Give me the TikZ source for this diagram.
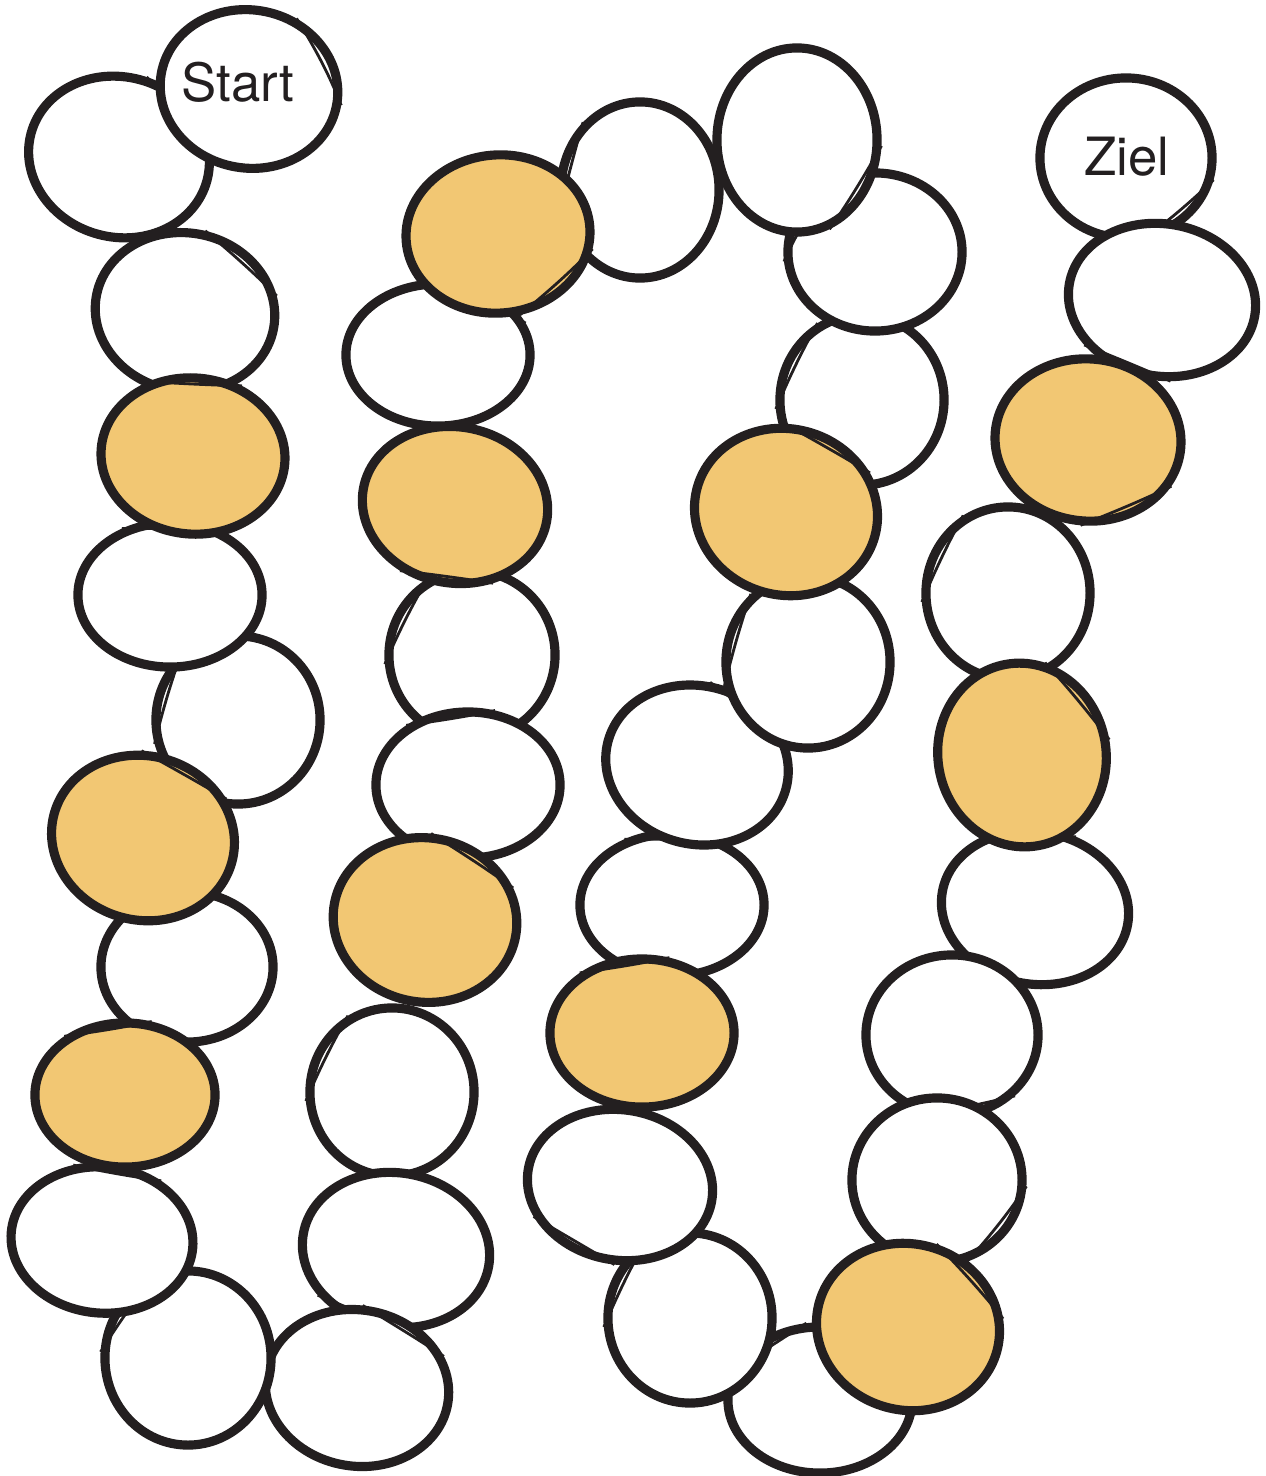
\documentclass[tikz,border=0pt]{standalone}
\usepackage{fontspec}
\newfontfamily\heros{TeX Gyre Heros}
\usetikzlibrary{shapes.geometric,calc}
\definecolor{ink}{HTML}{231F20}
\definecolor{gold}{HTML}{F2C773}
\tikzset{
  feld/.style={draw=ink, line width=2.6pt, ellipse, inner sep=0pt},
  strich/.style={draw=ink, line width=0.8pt},
  beschrift/.style={text=ink, font=\heros\fontsize{15}{18}\selectfont}
}
\begin{document}
\begin{tikzpicture}[x=0.01cm, y=-0.01cm]
    \useasboundingbox (0,0) rectangle (1265,1476);

    % Spielfelder: weisse vom Ziel zum Start, danach die gelben obendrauf
    % Nummer/x/y/Halbachse x/Halbachse y/Drehung/Farbe/Winkel des Doppelstrichs
    \foreach \n/\x/\y/\a/\b/\r/\f/\w [evaluate=\w as \wa using int(\w+22),
                                      evaluate=\w as \wb using int(\w+44),
                                      evaluate=\w as \wc using int(\w+66)] in {
        41/1126/158/86/80/0/white/280,
        40/1162/300/94/76/-10/white/220,
        38/1008/593/82/86/0/white/120,
        36/1035/908/94/76/-10/white/70,
        35/952/1035/86/80/0/white/250,
        34/937/1180/85/82/0/white/290,
        32/820/1400/92/73/0/white/100,
        31/690/1318/82/85/0/white/120,
        30/620/1185/93/75/-10/white/210,
        28/672/905/92/71/0/white/60,
        27/697/765/92/79/-15/white/30,
        26/808/662/82/86/0/white/130,
        24/862/400/82/85/0/white/120,
        23/875/252/87/79/0/white/120,
        22/797/140/80/92/0/white/290,
        21/640/190/79/88/0/white/130,
        19/438/355/92/71/0/white/20,
        17/472/655/83/84/0/white/120,
        16/468/785/92/73/0/white/70,
        14/392/1092/82/84/0/white/120,
        13/396/1250/94/77/-10/white/220,
        12/357/1388/92/78/-10/white/30,
        11/188/1358/83/87/0/white/110,
        10/102/1240/91/73/-5/white/50,
        8/187/967/86/75/0/white/70,
        6/238/720/82/84/0/white/130,
        5/170/595/92/72/0/white/60,
        3/185/312/90/79/-10/white/20,
        2/119/157/91/80/-15/white/20,
        1/249/89/89/79/-10/white/0,
        39/1088/440/93/81/-5/gold/270,
        37/1022/755/84/92/10/gold/0,
        33/908/1327/92/83/-15/gold/20,
        29/642/1033/92/74/0/gold/70,
        25/786/512/92/83/-15/gold/40,
        20/498/234/92/79/5/gold/280,
        18/455/505/93/78/-10/gold/240,
        15/425/920/92/82/-10/gold/30,
        9/125/1095/90/72/0/gold/70,
        7/143/838/92/82/-15/gold/40,
        4/193/456/92/78/-5/gold/60} {
        \node[feld, fill=\f, rotate=\r, minimum width=\a*0.02cm, minimum height=\b*0.02cm] (f\n) at (\x,\y) {};
        \draw[strich] (f\n.\w) .. controls ($(f\n.center)!0.88!(f\n.\wa)$) and ($(f\n.center)!0.88!(f\n.\wb)$) .. (f\n.\wc);
    }

    % Start und Ziel
    \node[beschrift] (start) at (238,82) {Start};
    \node[beschrift] (ziel) at (1127,157) {Ziel};
\end{tikzpicture}
\end{document}
